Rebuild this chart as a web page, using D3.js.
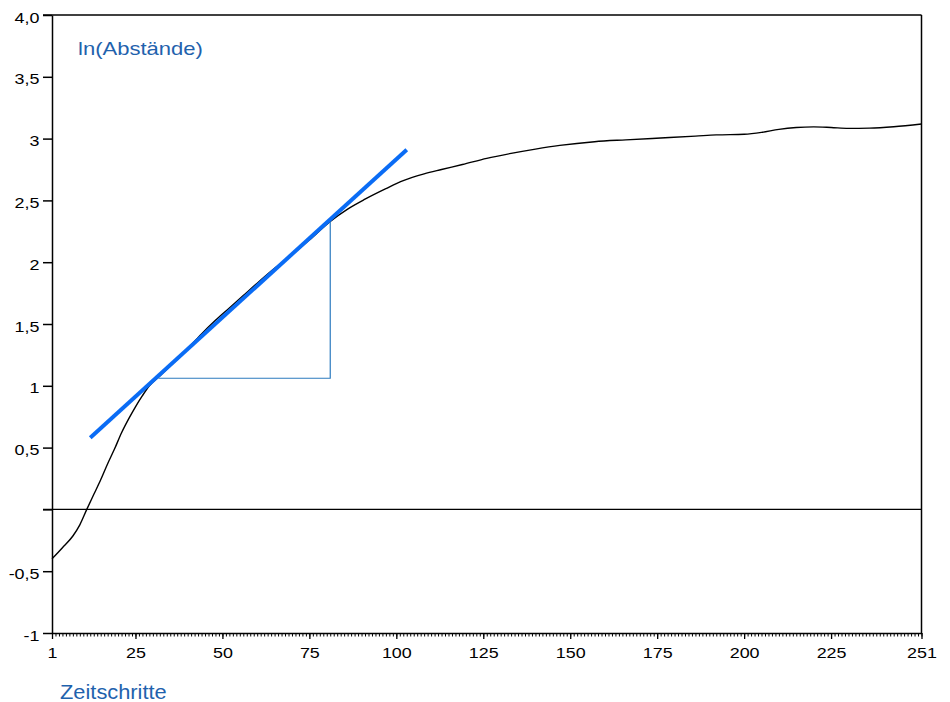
<!DOCTYPE html>
<html>
<head>
<meta charset="utf-8">
<script src="https://cdn.jsdelivr.net/npm/d3@7"></script>
<style>
  html, body { margin: 0; padding: 0; background: #fff; }
  svg { display: block; font-family: "Liberation Sans", Arial, sans-serif; }
</style>
</head>
<body>
<svg id="chart" width="950" height="702"></svg>
<script>
// ---- data ----
const steps = [1, 4, 7, 9, 11, 13, 15, 17, 19, 21, 23, 25, 27, 29, 32, 35, 38, 41, 44, 48, 52, 56, 60, 65, 70, 75, 81, 86, 91, 97, 102, 108, 113, 119, 126, 133, 140, 147, 157, 166, 176, 186, 192, 200, 205, 210, 215, 220, 225, 230, 236, 243, 251];
const lnDist = [-0.40, -0.31, -0.215, -0.125, 0.0, 0.12, 0.24, 0.37, 0.49, 0.62, 0.73, 0.83, 0.92, 1.00, 1.08, 1.16, 1.24, 1.33, 1.42, 1.53, 1.63, 1.73, 1.83, 1.95, 2.06, 2.18, 2.33, 2.43, 2.51, 2.595, 2.66, 2.715, 2.75, 2.79, 2.84, 2.88, 2.915, 2.945, 2.975, 2.99, 3.005, 3.02, 3.03, 3.035, 3.05, 3.075, 3.09, 3.095, 3.09, 3.083, 3.085, 3.096, 3.118];
const tangentX = [12, 103];
const tangentY = [0.58, 2.91];
const triangleX = [31.6, 81, 81];
const triangleY = [1.061, 1.061, 2.328];
const yTicks = [4, 3.5, 3, 2.5, 2, 1.5, 1, 0.5, 0, -0.5, -1];
const yTickLabels = ["4,0", "3,5", "3", "2,5", "2", "1,5", "1", "0,5", "", "-0,5", "-1"];
const xMajorTicks = [1, 25, 50, 75, 100, 125, 150, 175, 200, 225, 251];
const xMinorTicks = d3.range(1, 252);
const yTitle = "ln(Abstände)";
const xTitle = "Zeitschritte";

// ---- layout ----
(function () {
const svg = d3.select("#chart");
const mLeft = 52, mRight = 921.5, mTop = 15, mBottom = 633;
const x = d3.scaleLinear().domain([1, 251]).range([mLeft, mRight]);
const y = d3.scaleLinear().domain([-1, 4]).range([mBottom, mTop]);
const blueText = "#1f62ad";
const sx = 1.28;

// frame: top and right
svg.append("line").attr("x1", mLeft - 9).attr("x2", mRight).attr("y1", mTop).attr("y2", mTop)
  .attr("stroke", "#000").attr("stroke-width", 1.5);
svg.append("line").attr("x1", mRight).attr("x2", mRight).attr("y1", mTop).attr("y2", mBottom)
  .attr("stroke", "#000").attr("stroke-width", 1.5);

// zero line
svg.append("line").attr("x1", mLeft - 9).attr("x2", mRight).attr("y1", y(0)).attr("y2", y(0))
  .attr("stroke", "#000").attr("stroke-width", 1.3);

// y axis
const yAxis = svg.append("g").attr("transform", `translate(${mLeft},0)`)
  .call(d3.axisLeft(y).tickValues(yTicks).tickSizeInner(9).tickSizeOuter(0)
    .tickFormat((d, i) => yTickLabels[i]));
yAxis.select(".domain").attr("stroke-width", 1.5);
yAxis.selectAll(".tick line").attr("stroke-width", 1.5);
yAxis.selectAll(".tick text")
  .attr("font-family", "'Liberation Sans', Arial, sans-serif")
  .attr("font-size", 14).attr("fill", "#000")
  .attr("x", -12.5 / sx).attr("dy", "0.5em")
  .attr("transform", `scale(${sx},1)`);

// x axis minor ticks
const xMinor = svg.append("g").attr("transform", `translate(0,${mBottom})`)
  .call(d3.axisBottom(x).tickValues(xMinorTicks).tickSize(3.5).tickSizeOuter(0).tickFormat(""));
xMinor.select(".domain").remove();
xMinor.selectAll(".tick line").attr("stroke-width", 1);

// x axis major
const xAxis = svg.append("g").attr("transform", `translate(0,${mBottom})`)
  .call(d3.axisBottom(x).tickValues(xMajorTicks).tickSize(6).tickSizeOuter(0)
    .tickFormat(d3.format("d")));
xAxis.select(".domain").attr("stroke-width", 1.5);
xAxis.selectAll(".tick line").attr("stroke-width", 1.3);
xAxis.selectAll(".tick text")
  .attr("font-family", "'Liberation Sans', Arial, sans-serif")
  .attr("font-size", 14).attr("fill", "#000")
  .attr("y", 15).attr("transform", `scale(${sx},1)`);

// curve
const pts = steps.map((s, i) => [s, lnDist[i]]);
svg.append("path").datum(pts)
  .attr("fill", "none").attr("stroke", "#000").attr("stroke-width", 1.4)
  .attr("d", d3.line().x(d => x(d[0])).y(d => y(d[1])).curve(d3.curveMonotoneX));

// triangle
const tri = triangleX.map((v, i) => [v, triangleY[i]]);
svg.append("path").datum(tri)
  .attr("fill", "none").attr("stroke", "#2c7bbf").attr("stroke-width", 1.2)
  .attr("d", d3.line().x(d => x(d[0])).y(d => y(d[1])));

// tangent
const tan = tangentX.map((v, i) => [v, tangentY[i]]);
svg.append("path").datum(tan)
  .attr("fill", "none").attr("stroke", "#0a6cf5").attr("stroke-width", 4)
  .attr("d", d3.line().x(d => x(d[0])).y(d => y(d[1])));

// titles
svg.append("text").attr("transform", `translate(78,55) scale(1.16,1)`)
  .attr("font-size", 19).attr("fill", blueText).text(yTitle);
svg.append("text").attr("transform", `translate(60,699) scale(1.12,1)`)
  .attr("font-size", 19.5).attr("fill", blueText).text(xTitle);
})();
</script>
</body>
</html>
